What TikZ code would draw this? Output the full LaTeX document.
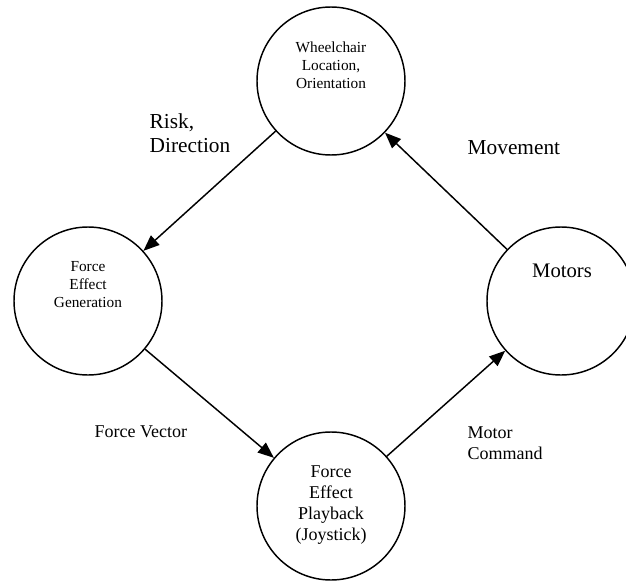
\documentclass[tikz,border=0pt]{standalone}
\usepackage{fontspec}
\setmainfont{Liberation Serif}
\usetikzlibrary{arrows.meta}

\tikzset{
  blob/.style={draw, circle, line width=1.1pt, minimum size=111pt, inner sep=0pt},
  flow/.style={-{Triangle[length=12pt,width=9.5pt]}, line width=1.1pt},
  small/.style={font=\fontsize{11.5}{13.5}\selectfont, align=center},
  mid/.style={font=\fontsize{13.5}{15.75}\selectfont, align=left},
  big/.style={font=\fontsize{16}{18}\selectfont, align=left}
}

\begin{document}
\begin{tikzpicture}[x=0.75pt, y=-0.75pt]
\useasboundingbox (0,0) rectangle (626,582);

% the four stages
\node [blob] (wheel) at (331,81) {};
\node [blob] (gen) at (88,301) {};
\node [blob] (play) at (331,506) {};
\node [blob] (motors) at (561,301) {};

\node [small] (wheeltext) at (331,65) {Wheelchair\\Location,\\Orientation};
\node [small] (gentext) at (88,285) {Force\\Effect\\Generation};
\node [mid, align=center] (playtext) at (331,505) {Force\\Effect\\Playback\\(Joystick)};
\node [font=\fontsize{15.5}{18}\selectfont] (motorstext) at (562,271) {Motors};

% the loop
\draw [flow] (wheel) -- (gen);
\draw [flow] (gen) -- (play);
\draw [flow] (play) -- (motors);
\draw [flow] (motors) -- (wheel);

\node [big, anchor=west] (risk) at (145,133) {Risk,\\Direction};
\node [big, anchor=west] (move) at (463,148) {Movement};
\node [mid, anchor=west] (vec) at (90,432) {Force Vector};
\node [mid, anchor=west] (cmd) at (463,443) {Motor\\Command};
\end{tikzpicture}
\end{document}
